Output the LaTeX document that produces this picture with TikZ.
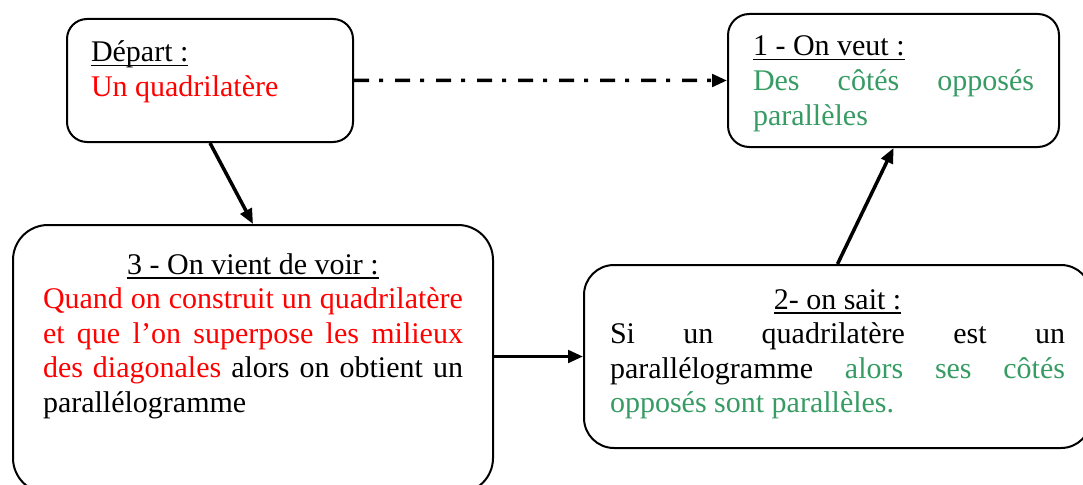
\documentclass[tikz,border=0pt]{standalone}
\usepackage{fontspec}
\setmainfont{Liberation Serif}
\usepackage{tikz}
\usetikzlibrary{arrows.meta}
\definecolor{txtgreen}{RGB}{55,155,100}
\newcommand{\headul}[1]{\leavevmode\setbox0=\hbox{#1}\rlap{\rule[-1.8pt]{\wd0}{0.7pt}}\box0}
\hyphenpenalty=10000
\exhyphenpenalty=10000

\begin{document}
\begin{tikzpicture}[
    x=0.4pt, y=-0.4pt,
    every node/.style={font=\fontsize{12}{13.8}\selectfont},
    box/.style={rectangle, draw, line width=0.8pt, anchor=north west, align=justify, inner ysep=0pt},
    arrow/.style={-{Triangle[length=6pt,width=5pt]}, line width=1.4pt},
    dashdot/.style={arrow, dash pattern=on 6pt off 4pt on 1.6pt off 4.8pt}
]
\useasboundingbox (0,0) rectangle (1083,485);

\node[box, rounded corners=8pt, inner xsep=9.6pt, text width=95.2pt, text height=17.2pt, text depth=32pt] (dep) at (66,18)
    {\headul{Départ :}\par\textcolor{red}{Un quadrilatère}};
\node[box, rounded corners=8.5pt, inner xsep=10pt, text width=112.4pt, text height=16.8pt, text depth=36.4pt] (goal) at (727,13)
    {\headul{1 - On veut :}\par\textcolor{txtgreen}{Des côtés opposés parallèles}};
\node[box, rounded corners=14pt, inner xsep=12pt, text width=168pt, text height=19.6pt, text depth=87.6pt] (seen) at (12,224)
    {{\centering\headul{3 - On vient de voir :}\par}\textcolor{red}{Quand on construit un quadrilatère et que l’on superpose les milieux des diagonales} alors on obtient un parallélogramme};
\node[box, rounded corners=12pt, inner xsep=10.4pt, text width=182pt, text height=17.6pt, text depth=55.6pt] (know) at (583,264)
    {{\centering\headul{2- on sait :}\par}Si un quadrilatère est un parallélogramme \textcolor{txtgreen}{alors ses côtés opposés sont parallèles.}};

\draw[dashdot] (dep) -- (goal);
\draw[arrow] (dep.south) -- (seen.north);
\draw[arrow] (seen.east |- know.west) -- (know.west);
\draw[arrow] (know.north) -- (goal.south);
\end{tikzpicture}
\end{document}
